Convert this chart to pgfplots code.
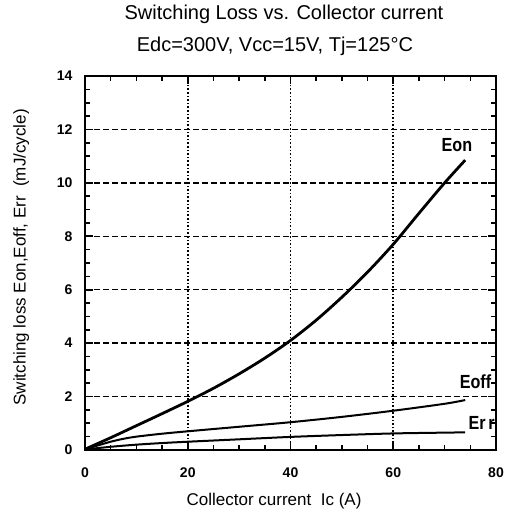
\documentclass[border=0pt]{standalone}
\usepackage{pgfplots}
\pgfplotsset{compat=1.18}
\usepackage{fontspec}
\setmainfont{Liberation Sans}

\begin{document}
\begin{tikzpicture}
\begin{axis}[
    scale only axis,
    width=411pt, height=374pt,
    xmin=0, xmax=80, ymin=0, ymax=14,
    xtick={0,20,40,60,80},
    ytick={0,2,...,14},
    minor x tick num=3,
    minor y tick num=3,
    tick align=inside,
    major tick length=8pt,
    minor tick length=5pt,
    every tick/.style={black, line width=1.6pt},
    axis line style={line width=2pt},
    xmajorgrids, ymajorgrids,
    x grid style={black, line width=1.6pt, dotted},
    y grid style={black, line width=1.3pt, dash pattern=on 6pt off 3pt},
    /pgf/number format/assume math mode=true,
    tick label style={font=\fontsize{14}{16}\selectfont\bfseries},
    xticklabel style={yshift=-14pt},
    yticklabel style={xshift=-9pt},
    xlabel={Collector current\ \ Ic (A)},
    ylabel={Switching loss Eon,Eoff, Err\ \ (mJ/cycle)},
    label style={font=\fontsize{17}{19}\selectfont},
    xlabel style={at={(axis description cs:0.46,-0.136)}, anchor=center},
    ylabel style={at={(axis description cs:-0.155,0.515)}, anchor=center},
    clip=false,
]
\addplot[black, line width=2.8pt, smooth] coordinates {
    (0,0.03) (5,0.46) (10,0.91) (15,1.36) (20,1.82) (25,2.31)
    (30,2.85) (35,3.44) (40,4.1) (45,4.86) (50,5.72) (55,6.66) (60,7.7)
    (65,8.86) (70,10.0) (74,10.85)};
\addplot[black, line width=2pt, smooth] coordinates {
    (0,0.03) (2.5,0.17) (5,0.31) (7.5,0.42) (10,0.5) (15,0.61) (20,0.7)
    (30,0.87) (40,1.04) (50,1.24) (60,1.47) (70,1.73) (74,1.87)};
\addplot[black, line width=2pt, smooth] coordinates {
    (0,0.02) (5,0.12) (10,0.2) (15,0.26) (20,0.31) (30,0.4)
    (40,0.49) (50,0.56) (60,0.62) (70,0.65) (74,0.66)};
\node[font=\fontsize{19}{21}\selectfont\bfseries, xscale=0.85] at (axis cs:72.4,11.4) {Eon};
\node[font=\fontsize{19}{21}\selectfont\bfseries, xscale=0.85] at (axis cs:76,2.55) {Eoff};
\node[font=\fontsize{19}{21}\selectfont\bfseries, xscale=0.85] at (axis cs:77.2,1.0) {Er\,r};
\node[font=\fontsize{20}{22}\selectfont] at (axis description cs:0.484,1.166)
    {Switching Loss vs. Collector current};
\node[font=\fontsize{20}{22}\selectfont] at (axis description cs:0.462,1.078)
    {Edc=300V, Vcc=15V, Tj=125\textdegree C};
\coordinate (O) at (rel axis cs:0,0);
\end{axis}
\pgfresetboundingbox
\path (O) ++(-85pt,-68pt) rectangle ++(509pt,518pt);
\end{tikzpicture}
\end{document}
